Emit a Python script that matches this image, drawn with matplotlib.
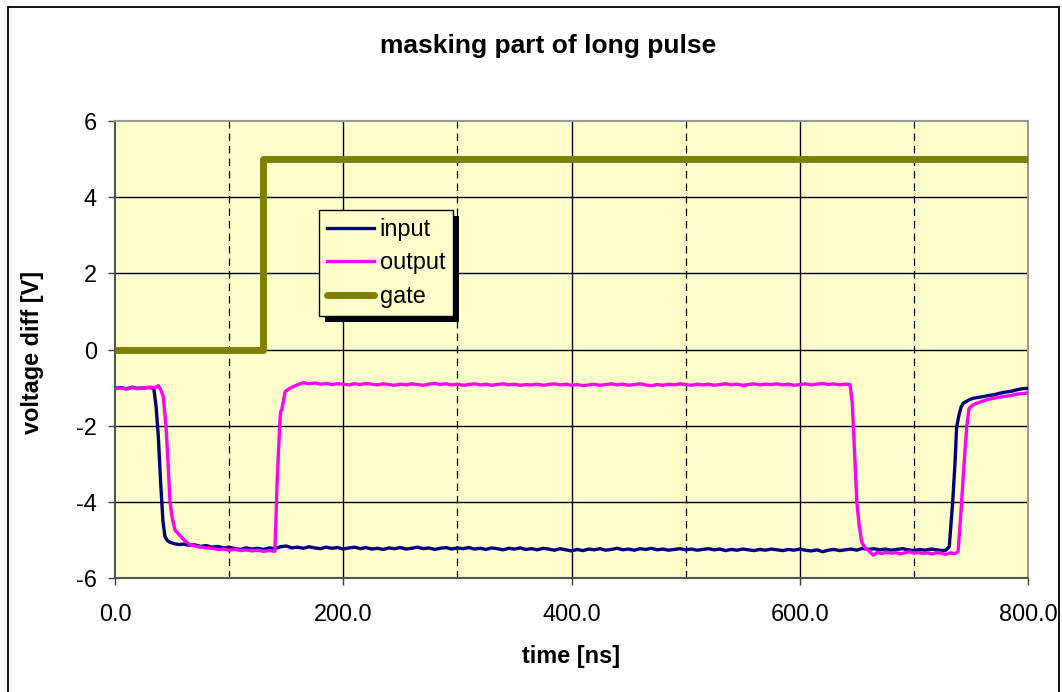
import matplotlib.pyplot as plt
from matplotlib.patches import Rectangle

plt.rcParams['font.family'] = ['Liberation Sans', 'DejaVu Sans']

# --- data --------------------------------------------------------------
input_time = [0, 5, 10, 15, 20, 25, 30, 34, 36, 38, 40, 41, 42, 43.8, 46, 48, 52, 56,
              60, 65, 70, 75, 80, 85, 90, 95, 100, 105, 110, 115, 120, 125, 130, 135,
              140, 145, 150, 155, 160, 165, 170, 175, 180, 185, 190, 195, 200, 205,
              210, 215, 220, 225, 230, 235, 240, 245, 250, 255, 260, 265, 270, 275,
              280, 285, 290, 295, 300, 305, 310, 315, 320, 325, 330, 335, 340, 345,
              350, 355, 360, 365, 370, 375, 380, 385, 390, 395, 400, 405, 410, 415,
              420, 425, 430, 435, 440, 445, 450, 455, 460, 465, 470, 475, 480, 485,
              490, 495, 500, 505, 510, 515, 520, 525, 530, 535, 540, 545, 550, 555,
              560, 565, 570, 575, 580, 585, 590, 595, 600, 605, 610, 615, 620, 625,
              630, 635, 640, 645, 650, 655, 660, 665, 670, 675, 680, 685, 690, 695,
              700, 705, 710, 715, 720, 725, 728, 731, 732.5, 734, 736, 737.5, 739.8,
              741.5, 743.3, 748, 752, 760, 765, 770, 775, 780, 785, 790, 795, 800]
input_volt = [-1.02, -1.00, -1.03, -0.99, -1.02, -1.01, -1.00, -1.02, -1.5, -2.3, -3.5, -4.0, -4.5, -4.92, -5.02, -5.06, -5.10, -5.12,
              -5.11, -5.14, -5.13, -5.17, -5.15, -5.19, -5.17, -5.21, -5.19, -5.23, -5.25, -5.21, -5.24, -5.22, -5.25, -5.21,
              -5.23, -5.18, -5.16, -5.21, -5.19, -5.22, -5.18, -5.21, -5.23, -5.19, -5.22, -5.20, -5.24, -5.21,
              -5.19, -5.23, -5.20, -5.24, -5.22, -5.25, -5.21, -5.23, -5.20, -5.24, -5.22, -5.19, -5.23, -5.21,
              -5.25, -5.22, -5.20, -5.24, -5.21, -5.23, -5.20, -5.24, -5.22, -5.25, -5.21, -5.23, -5.26, -5.22,
              -5.24, -5.21, -5.25, -5.23, -5.26, -5.22, -5.24, -5.27, -5.23, -5.26, -5.29, -5.25, -5.28, -5.24,
              -5.26, -5.23, -5.27, -5.25, -5.22, -5.26, -5.24, -5.27, -5.23, -5.25, -5.22, -5.26, -5.24, -5.27,
              -5.25, -5.23, -5.26, -5.24, -5.27, -5.25, -5.23, -5.26, -5.24, -5.28, -5.25, -5.27, -5.24, -5.26,
              -5.28, -5.25, -5.27, -5.24, -5.26, -5.28, -5.25, -5.27, -5.24, -5.27, -5.29, -5.26, -5.31, -5.27,
              -5.25, -5.28, -5.26, -5.24, -5.27, -5.22, -5.25, -5.23, -5.26, -5.24, -5.27, -5.25, -5.23, -5.26,
              -5.28, -5.25, -5.27, -5.24, -5.26, -5.28, -5.27, -5.18, -4.6, -4.01, -3.0, -2.03, -1.68,
              -1.50, -1.41, -1.33, -1.28, -1.24, -1.21, -1.19, -1.15, -1.12, -1.10, -1.06, -1.03, -1.02]

output_time = [0, 5, 10, 15, 20, 25, 30, 35, 38, 40, 42.3, 44.7, 46.5, 48.2, 50, 52.6, 57, 61,
               65.7, 70, 75, 80, 85, 90, 95, 100, 105, 110, 115, 120, 125, 130, 135, 140,
               141, 142, 143.5, 144.6, 145.3, 146, 147, 149, 153, 158, 165,
               170, 175, 180, 185, 190, 195, 200, 205, 210, 215, 220, 225, 230, 235,
               240, 245, 250, 255, 260, 265, 270, 275, 280, 285, 290, 295, 300, 305,
               310, 315, 320, 325, 330, 335, 340, 345, 350, 355, 360, 365, 370, 375,
               380, 385, 390, 395, 400, 405, 410, 415, 420, 425, 430, 435, 440, 445,
               450, 455, 460, 465, 470, 475, 480, 485, 490, 495, 500, 505, 510, 515,
               520, 525, 530, 535, 540, 545, 550, 555, 560, 565, 570, 575, 580, 585,
               590, 595, 600, 605, 610, 615, 620, 625, 630, 635, 640, 644, 646, 647,
               648.5, 650, 652, 654.2, 657, 660, 664.5, 668, 672, 676, 680, 684, 688,
               692, 696, 700, 704, 708, 712, 716, 720, 724, 728, 732, 736, 738.7, 740,
               741.8, 744, 746.3, 748.3, 751, 755, 760, 765, 770, 775, 780, 785, 790,
               795, 800]
output_volt = [-1.03, -1.01, -1.04, -1.00, -1.03, -1.01, -0.99, -1.00, -0.95, -1.05, -1.24, -2.03, -3.0, -4.0, -4.4, -4.74, -4.89, -5.02,
               -5.13, -5.16, -5.19, -5.21, -5.22, -5.25, -5.24, -5.27, -5.25, -5.28, -5.26, -5.29, -5.27, -5.30, -5.28, -5.30,
               -4.5, -3.5, -2.5, -1.81, -1.62, -1.59, -1.45, -1.11, -1.02, -0.95, -0.87,
               -0.90, -0.88, -0.91, -0.89, -0.92, -0.90, -0.91, -0.93, -0.90, -0.92, -0.89, -0.91, -0.93, -0.90,
               -0.92, -0.94, -0.91, -0.93, -0.90, -0.92, -0.94, -0.91, -0.89, -0.92, -0.90, -0.93, -0.91, -0.94,
               -0.92, -0.90, -0.93, -0.91, -0.94, -0.92, -0.90, -0.93, -0.91, -0.94, -0.92, -0.93, -0.91, -0.94,
               -0.92, -0.90, -0.93, -0.91, -0.94, -0.92, -0.95, -0.93, -0.91, -0.94, -0.92, -0.90, -0.93, -0.91,
               -0.94, -0.92, -0.90, -0.93, -0.95, -0.92, -0.94, -0.91, -0.93, -0.90, -0.92, -0.94, -0.91, -0.93,
               -0.91, -0.94, -0.92, -0.90, -0.93, -0.91, -0.94, -0.92, -0.90, -0.93, -0.91, -0.92, -0.90, -0.93,
               -0.91, -0.94, -0.92, -0.90, -0.93, -0.91, -0.89, -0.92, -0.90, -0.93, -0.91, -0.92, -1.4, -2.03,
               -3.0, -4.01, -4.6, -5.05, -5.20, -5.27, -5.40, -5.33, -5.36, -5.32, -5.35, -5.33, -5.37,
               -5.34, -5.31, -5.35, -5.33, -5.36, -5.34, -5.37, -5.33, -5.35, -5.38, -5.34, -5.36, -5.31, -4.8,
               -4.01, -3.0, -2.03, -1.55, -1.47, -1.41, -1.36, -1.31, -1.28, -1.25, -1.23, -1.21, -1.17,
               -1.16, -1.14]

gate_time = [0, 130, 130, 800]
gate_volt = [0, 0, 5, 5]

x_ticks = [0, 200, 400, 600, 800]
x_tick_labels = ['0.0', '200.0', '400.0', '600.0', '800.0']
x_dashed = [100, 300, 500, 700]
y_ticks = [-6, -4, -2, 0, 2, 4, 6]

W, H = 1062, 692
fig = plt.figure(figsize=(W / 100, H / 100), dpi=100)

# outer chart border (Excel style)
fig.patches.append(Rectangle((8 / W, -0.02), (1059 - 8) / W, 1 - 7 / H + 0.02,
                             transform=fig.transFigure, fill=False,
                             edgecolor='black', linewidth=1.3))

ax = fig.add_axes([115 / W, 1 - 578 / H, (1028 - 115) / W, (578 - 121) / H])
ax.set_facecolor('#FFFFCC')

ax.plot(gate_time, gate_volt, color='#808000', linewidth=5, label='gate', zorder=3,
        solid_capstyle='butt')
ax.plot(input_time, input_volt, color='#000080', linewidth=2.4, label='input', zorder=4)
ax.plot(output_time, output_volt, color='#FF00FF', linewidth=2.4, label='output', zorder=5)

ax.set_xlim(0, 800)
ax.set_ylim(-6, 6)
ax.set_xticks(x_ticks)
ax.set_xticklabels(x_tick_labels)
ax.set_yticks(y_ticks)
ax.set_yticklabels([str(v) for v in y_ticks])

for v in y_ticks[1:-1]:
    ax.axhline(v, color='black', linewidth=1, zorder=1)
for v in x_ticks[1:-1]:
    ax.axvline(v, color='black', linewidth=1, zorder=1)
for v in x_dashed:
    ax.axvline(v, color='black', linewidth=0.9, linestyle=(0, (6, 4)), zorder=1)

ax.tick_params(axis='both', direction='out', length=5, width=1, color='#404040',
               labelsize=16.9)
ax.tick_params(axis='x', pad=13)
ax.tick_params(axis='y', pad=8)

for side in ['left', 'bottom']:
    ax.spines[side].set_color('#555555')
    ax.spines[side].set_linewidth(1.5)
for side in ['top', 'right']:
    ax.spines[side].set_color('#999999')
    ax.spines[side].set_linewidth(1.5)

fig.text(548 / W, 1 - 46 / H, 'masking part of long pulse', ha='center', va='center',
         fontsize=19, fontweight='bold')
fig.text(571 / W, 1 - 656 / H, 'time [ns]', ha='center', va='center',
         fontsize=16.9, fontweight='bold')
fig.text(33 / W, 1 - 352 / H, 'voltage diff [V]', ha='center', va='center',
         rotation=90, fontsize=16.9, fontweight='bold')

# legend in input/output/gate order with a hard black drop shadow
handles, labels = ax.get_legend_handles_labels()
order = [1, 2, 0]
leg = ax.legend([handles[i] for i in order], [labels[i] for i in order],
                loc='upper left', bbox_to_anchor=(319 / W, 1 - 210 / H),
                bbox_transform=fig.transFigure, borderaxespad=0,
                fancybox=False, frameon=True, fontsize=16.9,
                handlelength=2.0, handletextpad=0.25, borderpad=0.33,
                labelspacing=0.45)
leg.get_frame().set_facecolor('#FFFFCC')
leg.get_frame().set_edgecolor('black')
leg.get_frame().set_linewidth(1)
leg.get_frame().set_alpha(1)
leg.legend_handles[2].set_solid_capstyle('round')
leg.set_zorder(10)

fig.canvas.draw()
bb = leg.get_window_extent()
ax.add_patch(Rectangle((bb.x0 + 6, bb.y0 - 6), bb.width, bb.height, transform=None,
                       facecolor='black', edgecolor='none', zorder=9, clip_on=False))

fig.savefig('out.png', dpi=100)
